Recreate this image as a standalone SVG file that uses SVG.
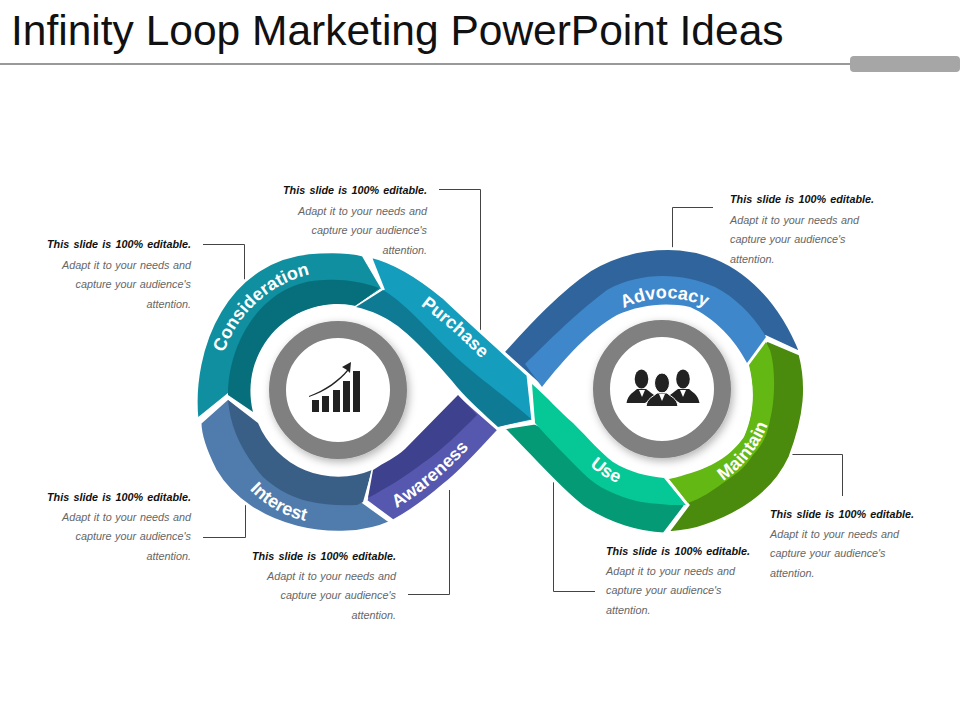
<svg xmlns="http://www.w3.org/2000/svg" width="960" height="720" viewBox="0 0 960 720">
<style>
.t{font-family:"Liberation Sans",Arial,sans-serif}
.h{font:italic bold 10.8px "Liberation Sans",Arial,sans-serif;fill:#111;word-spacing:1.2px}
.b{font:italic 10.8px "Liberation Sans",Arial,sans-serif;fill:#666;word-spacing:.6px}
.e{text-anchor:end}
.l{font:bold 18px "Liberation Sans",Arial,sans-serif;fill:#fff;text-anchor:middle}
.w{stroke:#fff;stroke-width:3;stroke-linejoin:miter}
.c{fill:none;stroke:#444;stroke-width:1}
.ring{fill:#fff;stroke:#808080;stroke-width:17;filter:url(#sh)}
.ic{fill:#222}
.tie{fill:#fff}
</style>
<defs>
<filter id="sh" x="-30%" y="-30%" width="160%" height="160%"><feDropShadow dx="2" dy="3" stdDeviation="4" flood-color="#000" flood-opacity=".3"/></filter>
<path id="pCon" d="M219,372 A121 121 0 0 1 338,271"/>
<path id="pPur" d="M415,301 C440,320 465,340 486,364"/>
<path id="pAwa" d="M390,512 C420,495 450,470 474,442"/>
<path id="pInt" d="M243,482 C262,505 285,518 315,523"/>
<path id="pAdv" d="M610,318 C640,292 690,292 720,316"/>
<path id="pUse" d="M584,460 C595,472 608,480 625,486"/>
<path id="pMai" d="M712,488 C740,472 762,448 772,412"/>
</defs>
<text class="t" x="11" y="45" font-size="42.5" fill="#111">Infinity Loop Marketing PowerPoint Ideas</text>
<rect x="0" y="63" width="850" height="2" fill="#999"/>
<rect x="850" y="56" width="110" height="16" rx="4" fill="#a6a6a6"/>
<g id="connectors">
<path class="c" d="M203,244.500H244.500V285"/>
<path class="c" d="M439,189.500H480.500V336"/>
<path class="c" d="M713,207.500H672.500V250"/>
<path class="c" d="M790,454.500H842.500V496"/>
<path class="c" d="M595,591.500H553.500V482"/>
<path class="c" d="M408,594.500H449.500V490"/>
<path class="c" d="M203,537.500H245.500V497"/>
</g>
<g id="advocacy">
<path class="w" fill="#2f659c" d="M503,352 C530,322 560,290 590,270 C620,252 650,247 680,249 C740,255 780,300 801,353 L766,337 L747,364 C735,340 715,318 690,307 C665,302 640,305 617,315 C590,330 565,358 542,387Z"/>
<path fill="#3f87cb" d="M525,364 C545,345 570,318 607,290 C640,272 680,272 715,287 C735,297 755,317 766,337 L747,363 C735,340 715,318 690,307 C665,302 640,305 617,315 C590,330 565,358 542,387Z"/>
<text class="l"><textPath href="#pAdv" startOffset="50%">Advocacy</textPath></text>
</g>
<g id="use">
<path class="w" fill="#049a75" d="M503,428 L535,423 L686,505 L664,534 C640,533 610,525 583,507 C560,490 530,455 503,428Z"/>
<path fill="#06c897" d="M532,384 C548,398 560,412 573,423 C590,440 600,452 613,462 C630,473 648,476 664,478 L686,505 L670,505 C650,503 640,503 623,497 C605,490 595,485 583,473 C565,455 550,440 535,423Z"/>
<text class="l"><textPath href="#pUse" startOffset="50%">Use</textPath></text>
</g>
<g id="maintain">
<path class="w" fill="#4a8a0c" d="M767,340 L800,354 C808,385 806,415 790,457 C775,490 745,512 705,526 C695,530 680,532 667,533 L688,505 L667,478 C672,478 680,476 690,473 C715,465 730,455 743,437 C755,410 753,385 748,365Z"/>
<path fill="#63b814" d="M766,342 L749,365 C754,385 756,410 744,437 C731,455 716,465 691,473 C681,476 675,478 669,479 L688,503 C702,498 712,491 723,483 C735,475 745,468 753,455 C762,445 767,437 770,420 C775,400 776,370 770,350Z"/>
<text class="l"><textPath href="#pMai" startOffset="50%">Maintain</textPath></text>
</g>
<g id="consideration">
<path class="w" fill="#0f8f9f" d="M197,420 C190,350 225,255 320,252 C338,251 352,252 363,255 L383,289 L356,307 A87 87 0 0 0 253,413 L228,395Z"/>
<path fill="#076f7c" d="M228,395 C228,340 265,280 325,280 C345,279 362,282 379,288 L356,306 A87 87 0 0 0 253,412Z"/>
<text class="l"><textPath href="#pCon" startOffset="47.500%">Consideration</textPath></text>
</g>
<g id="interest">
<path class="w" fill="#4f7cad" d="M200,423 L228,398 L258,423 A87 87 0 0 0 372,470 L363,502 L391,522 C340,545 250,530 215,470 C205,450 200,435 200,423Z"/>
<path fill="#3a5f87" d="M228,400 C230,425 240,450 263,477 C280,492 295,498 307,501 C325,505 340,506 357,505 L363,502 L372,470 A87 87 0 0 1 258,423Z"/>
<text class="l"><textPath href="#pInt" startOffset="50%">Interest</textPath></text>
</g>
<g id="awareness">
<path class="w" fill="#5558ae" d="M458,394 L499,430 C480,450 465,468 445,484 C430,497 412,511 393,521 L366,501 L373,470 C385,462 395,458 405,449Z"/>
<path fill="#3e418d" d="M458,395 L477,415 C460,432 442,450 423,463 C405,477 388,487 368,498 L373,470 C385,462 395,458 405,449Z"/>
<text class="l"><textPath href="#pAwa" startOffset="50%">Awareness</textPath></text>
</g>
<g id="purchase">
<path class="w" fill="#149dbd" d="M370,256 C395,262 420,278 443,297 C465,318 495,345 528,375 L533,421 L498,428 C484,414 470,402 457,387 C445,372 430,356 417,343 C405,332 390,315 356,307 L383,289Z"/>
<path fill="#0e7a94" d="M356,307 L383,290 C408,305 432,335 457,358 C480,379 510,400 531,419 L498,427 C484,414 470,402 457,387 C445,372 430,356 417,343 C405,332 390,315 356,307Z"/>
<text class="l"><textPath href="#pPur" startOffset="50%">Purchase</textPath></text>
</g>
<g id="hub-left">
<circle class="ring" cx="338" cy="390" r="60.500"/>
<g class="ic">
<rect x="312" y="400" width="7" height="12"/><rect x="322" y="396" width="7" height="16"/><rect x="333" y="390" width="7" height="22"/><rect x="343" y="381" width="7" height="31"/><rect x="353" y="371" width="7" height="41"/>
<path d="M309,396 C325,390 340,379 347,370 L342,367 L351,362 L350,373 L348,371 C340,381 325,392 309,397Z"/>
</g>
</g>
<g id="hub-right">
<circle class="ring" cx="662" cy="389" r="60.500"/>
<g class="ic">
<ellipse cx="641.500" cy="379" rx="6.800" ry="9.500"/>
<ellipse cx="683" cy="379" rx="6.800" ry="9.500"/>
<path d="M626.500,403 C628,394 634,392 637,389 L646,389 C650,392 653,394 655,396 L645,403Z"/>
<path d="M699.500,403 C698,394 692,392 689,389 L678,389 C674,392 671,394 669,396 L680,403Z"/>
<path class="tie" d="M639,390 L645,390 L642,397Z"/><path class="tie" d="M680,390 L686,390 L683,397Z"/>
<ellipse cx="662" cy="383" rx="7.500" ry="10" stroke="#fff" stroke-width="1"/>
<path stroke="#fff" stroke-width="1" d="M646,406.500 C647,398 653,397 657,393 L667,393 C671,397 677,398 678,406.500Z"/>
<path class="tie" d="M659,394 L665,394 L662,401Z"/>
</g>
</g>
<g id="note-consideration"><text class="h e" x="191" y="248">This slide is 100% editable.</text><text class="b e" x="191" y="269">Adapt it to your needs and</text><text class="b e" x="191" y="288">capture your audience's</text><text class="b e" x="191" y="308">attention.</text></g>
<g id="note-purchase"><text class="h e" x="427" y="194">This slide is 100% editable.</text><text class="b e" x="427" y="215">Adapt it to your needs and</text><text class="b e" x="427" y="234">capture your audience's</text><text class="b e" x="427" y="254">attention.</text></g>
<g id="note-advocacy"><text class="h" x="730" y="203">This slide is 100% editable.</text><text class="b" x="730" y="224">Adapt it to your needs and</text><text class="b" x="730" y="243">capture your audience's</text><text class="b" x="730" y="263">attention.</text></g>
<g id="note-maintain"><text class="h" x="770" y="518">This slide is 100% editable.</text><text class="b" x="770" y="538">Adapt it to your needs and</text><text class="b" x="770" y="557">capture your audience's</text><text class="b" x="770" y="577">attention.</text></g>
<g id="note-use"><text class="h" x="606" y="555">This slide is 100% editable.</text><text class="b" x="606" y="575">Adapt it to your needs and</text><text class="b" x="606" y="594">capture your audience's</text><text class="b" x="606" y="614">attention.</text></g>
<g id="note-awareness"><text class="h e" x="396" y="560">This slide is 100% editable.</text><text class="b e" x="396" y="580">Adapt it to your needs and</text><text class="b e" x="396" y="599">capture your audience's</text><text class="b e" x="396" y="619">attention.</text></g>
<g id="note-interest"><text class="h e" x="191" y="501">This slide is 100% editable.</text><text class="b e" x="191" y="521">Adapt it to your needs and</text><text class="b e" x="191" y="540">capture your audience's</text><text class="b e" x="191" y="560">attention.</text></g>
</svg>
